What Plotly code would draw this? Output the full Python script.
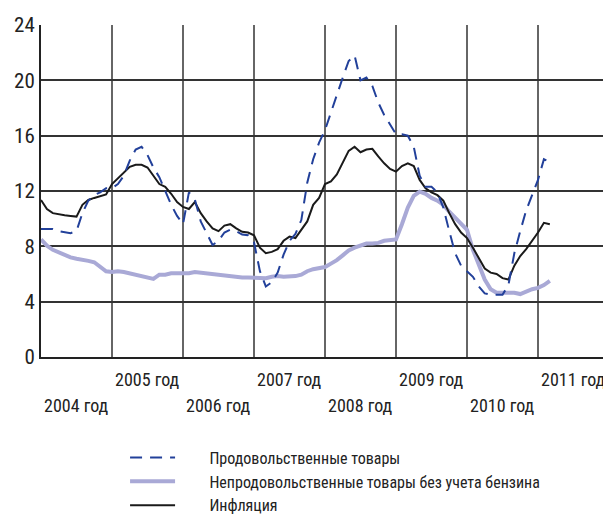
import plotly.graph_objects as go

start_year = 2004
inflation = [11.35, 10.7, 10.4, 10.3, 10.25, 10.2, 10.15, 11.0, 11.35, 11.5, 11.65, 11.75,
             12.5, 12.9, 13.3, 13.75, 13.9, 13.9, 13.7, 13.1, 12.5, 12.3, 11.8, 11.2,
             10.85, 10.7, 11.2, 10.4, 9.8, 9.3, 9.1, 9.5, 9.6, 9.3, 9.05, 9.0,
             8.8, 7.9, 7.5, 7.6, 7.8, 8.4, 8.7, 8.6, 9.2, 9.8, 11.0, 11.5,
             12.5, 12.7, 13.2, 14.0, 14.9, 15.2, 14.8, 15.0, 15.05, 14.5, 14.0, 13.6,
             13.4, 13.8, 14.0, 13.8, 12.8, 12.2, 11.9, 11.7, 11.3, 10.4, 9.6, 9.0,
             8.6, 7.9, 7.1, 6.4, 6.1, 6.0, 5.7, 5.6, 6.6, 7.3, 7.8, 8.4,
             9.0, 9.7, 9.6]
food = [9.25, 9.25, 9.25, 9.1, 9.05, 8.95, 9.1, 10.4, 11.3, 11.7, 11.9, 12.2,
        12.2, 12.5, 13.1, 14.2, 15.0, 15.2, 14.6, 13.7, 13.0, 12.0, 11.0, 10.2,
        9.6, 11.9, 11.4, 9.8, 8.95, 8.1, 8.4, 9.0, 9.2, 9.1, 8.85, 8.8,
        8.3, 6.2, 5.1, 5.4, 6.1, 7.4, 8.4, 8.9, 9.9, 12.6, 14.3, 15.5,
        16.4, 17.7, 19.0, 20.2, 21.4, 21.8, 20.0, 20.2, 19.6, 18.4, 17.5, 16.8,
        16.1, 16.1, 16.0, 15.2, 13.1, 12.3, 12.3, 11.9, 10.8, 9.1, 7.5, 6.6,
        6.2, 5.8, 5.1, 4.6, 4.5, 4.5, 4.5, 5.2, 7.5, 9.1, 10.6, 11.7,
        12.8, 14.3, 14.1]
nonfood = [8.5, 8.05, 7.75, 7.55, 7.4, 7.2, 7.1, 7.05, 6.95, 6.85, 6.5, 6.2,
           6.15, 6.2, 6.15, 6.05, 5.9, 5.8, 5.75, 5.65, 5.95, 5.95, 6.05, 6.05,
           6.05, 6.05, 6.15, 6.1, 6.05, 5.95, 5.95, 5.9, 5.8, 5.8, 5.75, 5.75,
           5.75, 5.7, 5.7, 5.8, 5.85, 5.8, 5.8, 5.85, 5.95, 6.2, 6.35, 6.45,
           6.5, 6.75, 7.0, 7.35, 7.7, 7.9, 8.05, 8.2, 8.2, 8.25, 8.4, 8.45,
           8.5, 9.6, 10.8, 11.65, 11.95, 11.8, 11.5, 11.3, 11.0, 10.5, 10.05, 9.6,
           9.2, 7.75, 6.6, 5.6, 4.9, 4.65, 4.65, 4.65, 4.65, 4.55, 4.75, 4.9,
           5.0, 5.2, 5.5]
year_labels = ["2004 год", "2005 год", "2006 год", "2007 год", "2008 год", "2009 год", "2010 год", "2011 год"]
y_ticks = [0, 4, 8, 12, 16, 20, 24]
names = ["Продовольственные товары", "Непродовольственные товары без учета бензина", "Инфляция"]

x = [start_year + k / 12 for k in range(len(inflation))]

FONT = "Roboto Condensed, Liberation Sans, sans-serif"
pad = "\u00a0" * 8

fig = go.Figure()
fig.add_trace(go.Scatter(x=x, y=nonfood, mode="lines", name=pad + names[1], legendrank=2,
                         line=dict(color="#a9a9d6", width=4)))
fig.add_trace(go.Scatter(x=x, y=inflation, mode="lines", name=pad + names[2], legendrank=3,
                         line=dict(color="#1a1a1a", width=2)))
fig.add_trace(go.Scatter(x=x, y=food, mode="lines", name=pad + names[0], legendrank=1,
                         line=dict(color="#22409a", width=2, dash="12px,8px")))

for i, lab in enumerate(year_labels):
    fig.add_annotation(x=start_year + i + 0.5, xref="x", y=-0.069 if i % 2 else -0.146, yref="paper",
                       text=lab, showarrow=False, font=dict(family=FONT, size=18, color="#222"),
                       xanchor="center", yanchor="middle")

# page body adds an 8px offset, so the figure is 8px smaller than the window
fig.update_layout(
    width=603, height=506,
    margin=dict(l=33, r=2, t=17, b=157, autoexpand=False),
    paper_bgcolor="white", plot_bgcolor="white",
    font=dict(family=FONT, color="#222"),
    showlegend=True,
    legend=dict(x=0.148, y=-0.252, xanchor="left", yanchor="top", orientation="v",
                font=dict(family=FONT, size=16, color="#222"),
                itemwidth=45, tracegroupgap=0, bgcolor="rgba(0,0,0,0)"),
    xaxis=dict(range=[start_year, start_year + 8], dtick=1, tick0=start_year, showticklabels=False,
               showgrid=True, gridcolor="#666", gridwidth=1.5, zeroline=False,
               showline=True, linecolor="#222", linewidth=2, mirror=False, ticks=""),
    yaxis=dict(range=[0, 24], tickvals=y_ticks, showgrid=True, gridcolor="#333", gridwidth=1.5,
               zeroline=False, showline=True, linecolor="#222", linewidth=2,
               tickfont=dict(family=FONT, size=21, color="#222"), ticks="", ticklen=0),
)
fig.add_shape(type="line", xref="paper", yref="paper", x0=1, x1=1, y0=0, y1=1,
              line=dict(color="#666", width=1.5))

fig.write_html("out.html")
